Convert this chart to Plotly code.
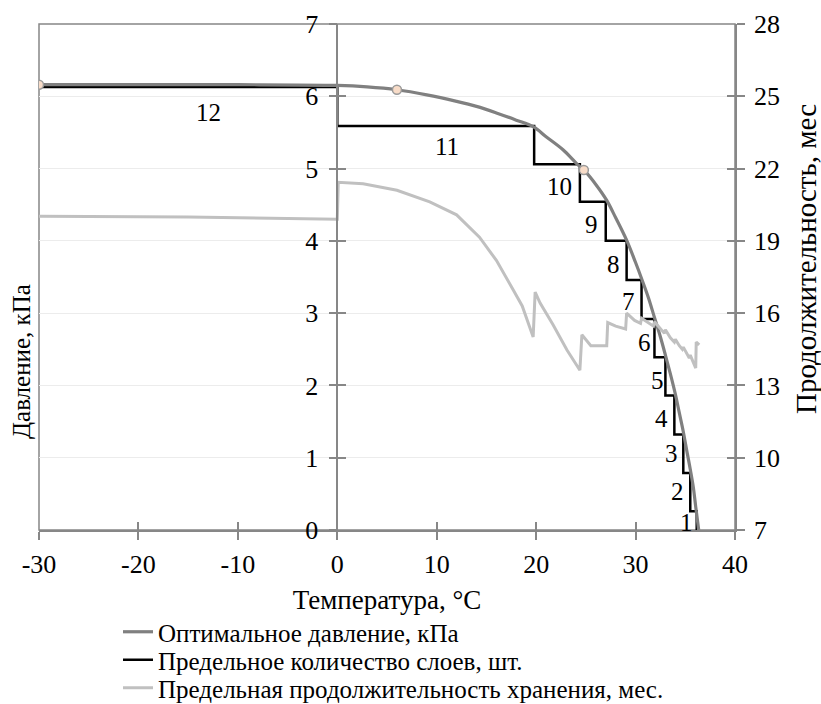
import plotly.graph_objects as go

# ---- data ----
temp_opt = [-30, -20, -10, 0, 3, 6, 9, 12, 14, 16, 18, 19.7, 21, 22.7, 24, 25, 26, 27.1, 28,
            29.1, 30, 30.6, 31.3, 31.9, 32.5, 33.0, 33.5, 34.0, 34.4, 34.8, 35.2, 35.5, 35.8, 36.05, 36.35]
press_opt = [6.16, 6.16, 6.16, 6.15, 6.13, 6.09, 6.02, 5.93, 5.86, 5.77, 5.67, 5.58, 5.44, 5.26, 5.08, 4.95,
             4.78, 4.56, 4.32, 4.01, 3.70, 3.48, 3.21, 2.94, 2.67, 2.42, 2.16, 1.88, 1.62, 1.36, 1.06, 0.84,
             0.60, 0.32, 0.0]

layer_x = [-30, 0, 19.8, 24.4, 27.0, 29.1, 30.6, 31.9, 33.0, 33.9, 34.8, 35.5, 36.15]
layer_y = [6.13, 5.59, 5.06, 4.54, 4.00, 3.46, 2.92, 2.39, 1.86, 1.32, 0.79, 0.26, 0.0]

store_x = [-30, -15, 0, 0.1, 2.6, 6.0, 9.3, 12.0, 14.3, 16.0, 17.7, 18.6, 19.7, 19.9, 20.4, 21.7, 23.1,
           24.4, 24.6, 25.5, 26.5, 27.1, 27.2, 28.0, 29.0, 29.1, 29.9, 30.5, 30.6, 31.2, 31.8, 31.9, 32.5,
           32.9, 33.0, 33.5, 33.9, 34.0, 34.4, 34.7, 34.8, 35.1, 35.4, 35.5, 35.8, 36.05, 36.1, 36.4]
store_m = [20.02, 19.99, 19.9, 21.43, 21.37, 21.1, 20.62, 20.08, 19.15, 18.19, 16.96, 16.3, 15.01, 16.87,
           16.42, 15.52, 14.47, 13.63, 15.1, 14.65, 14.65, 14.65, 15.61, 15.46, 15.34, 16.0, 15.7, 15.58,
           15.79, 15.64, 15.46, 15.64, 15.34, 15.16, 15.31, 14.98, 14.8, 14.92, 14.65, 14.5, 14.59, 14.35,
           14.14, 14.26, 13.96, 13.72, 14.8, 14.68]

marker_x = [-30, 6, 24.8]
marker_y = [6.16, 6.09, 4.98]

step_labels = ['12', '11', '10', '9', '8', '7', '6', '5', '4', '3', '2', '1']
step_lx = [-13.0, 11.0, 22.3, 25.6, 27.8, 29.3, 30.85, 32.2, 32.6, 33.6, 34.2, 35.1]
step_ly = [5.77, 5.30, 4.75, 4.22, 3.67, 3.16, 2.60, 2.07, 1.54, 1.06, 0.53, 0.11]

x_ticks = [-30, -20, -10, 0, 10, 20, 30, 40]
x_tick_text = ['-30', '-20', '-10', '0', '10', '20', '30', '40']
y_ticks = [0, 1, 2, 3, 4, 5, 6, 7]
y2_ticks = [7, 10, 13, 16, 19, 22, 25, 28]

FONT = "Liberation Serif"
AX = "#878787"

fig = go.Figure()
fig.add_trace(go.Scatter(x=store_x, y=store_m, yaxis="y2", mode="lines",
                         line=dict(color="#c0c0c0", width=3),
                         name="Предельная продолжительность хранения, мес.", legend="legend3"))
fig.add_trace(go.Scatter(x=layer_x, y=layer_y, mode="lines", line_shape="hv",
                         line=dict(color="#000000", width=2.5),
                         name="Предельное количество слоев, шт.", legend="legend2"))
fig.add_trace(go.Scatter(x=temp_opt, y=press_opt, mode="lines", line_shape="spline",
                         line=dict(color="#808080", width=3.2),
                         name="Оптимальное давление, кПа", legend="legend"))
fig.add_trace(go.Scatter(x=marker_x, y=marker_y, mode="markers", showlegend=False,
                         marker=dict(size=9, color="#f8dcc8", line=dict(color="#9a9a9a", width=1.5))))
fig.add_trace(go.Scatter(x=[None], y=[None], xaxis="x2", yaxis="y3", showlegend=False, hoverinfo="skip"))
fig.add_trace(go.Scatter(x=[None], y=[None], xaxis="x", yaxis="y4", showlegend=False, hoverinfo="skip"))

for t, lx, ly in zip(step_labels, step_lx, step_ly):
    fig.add_annotation(x=lx, y=ly, text=t, showarrow=False,
                       font=dict(family=FONT, size=25, color="black"))

zero_pos = (0 - (-30)) / (40 - (-30))

leg_common = dict(xref="container", yref="container", xanchor="left", yanchor="middle",
                  font=dict(family=FONT, size=25, color="black"), itemwidth=30,
                  bgcolor="rgba(0,0,0,0)", x=118 / 821)

fig.update_layout(
    width=821, height=704,
    margin=dict(l=39, r=86, t=24, b=174, autoexpand=False),
    paper_bgcolor="white", plot_bgcolor="white",
    font=dict(family=FONT, size=26, color="black"),
    showlegend=True,
    legend=dict(leg_common, y=1 - 632 / 704),
    legend2=dict(leg_common, y=1 - 660 / 704),
    legend3=dict(leg_common, y=1 - 688 / 704),
    xaxis=dict(range=[-30, 40], tickvals=x_ticks, ticktext=x_tick_text, showgrid=False, zeroline=False,
               automargin=False, showline=True, linecolor=AX, linewidth=1.5, ticks="outside", ticklen=8,
               tickcolor=AX, tickwidth=1.5, ticklabelstandoff=2,
               title=dict(text="Температура, °С", font=dict(family=FONT, size=27), standoff=12)),
    xaxis2=dict(range=[-30, 40], tickvals=x_ticks, overlaying="x", anchor="y", side="bottom",
                showgrid=False, zeroline=False, showline=False, ticks="inside", ticklen=8,
                tickcolor=AX, tickwidth=1.5, showticklabels=False),
    yaxis=dict(range=[0, 7], tickvals=y_ticks, anchor="free", position=zero_pos, automargin=False,
               showgrid=True, gridcolor="#ececec", gridwidth=1, zeroline=False,
               showline=True, linecolor=AX, linewidth=1.5, ticks="outside", ticklen=8,
               tickcolor=AX, tickwidth=1.5, ticklabelstandoff=5),
    yaxis3=dict(range=[0, 7], tickvals=y_ticks, anchor="free", position=zero_pos, overlaying="y",
                showgrid=False, zeroline=False, showline=False, ticks="inside", ticklen=8,
                tickcolor=AX, tickwidth=1.5, showticklabels=False),
    yaxis2=dict(range=[7, 28], tickvals=y2_ticks, overlaying="y", side="right", anchor="x",
                showgrid=False, zeroline=False, showline=True, linecolor=AX, linewidth=1.5,
                ticks="outside", ticklen=8, tickcolor=AX, tickwidth=1.5, automargin=False,
                ticklabelstandoff=4),
    yaxis4=dict(range=[7, 28], tickvals=y2_ticks, overlaying="y", side="right", anchor="x",
                showgrid=False, zeroline=False, showline=False, ticks="inside", ticklen=8,
                tickcolor=AX, tickwidth=1.5, showticklabels=False),
    shapes=[dict(type="rect", xref="paper", yref="paper", x0=0, x1=1, y0=0, y1=1,
                 line=dict(color=AX, width=1.5), layer="below")],
)

fig.add_annotation(xref="paper", yref="paper", x=(22 - 39) / 696, y=(530 - 362) / 506, xanchor="center",
                   yanchor="middle", text="Давление, кПа", textangle=-90, showarrow=False,
                   font=dict(family=FONT, size=25, color="black"))
fig.add_annotation(xref="paper", yref="paper", x=(806 - 39) / 696, y=(530 - 259) / 506, xanchor="center",
                   yanchor="middle", text="Продолжительность, мес", textangle=-90, showarrow=False,
                   font=dict(family=FONT, size=29, color="black"))

fig.write_html("out.html")
